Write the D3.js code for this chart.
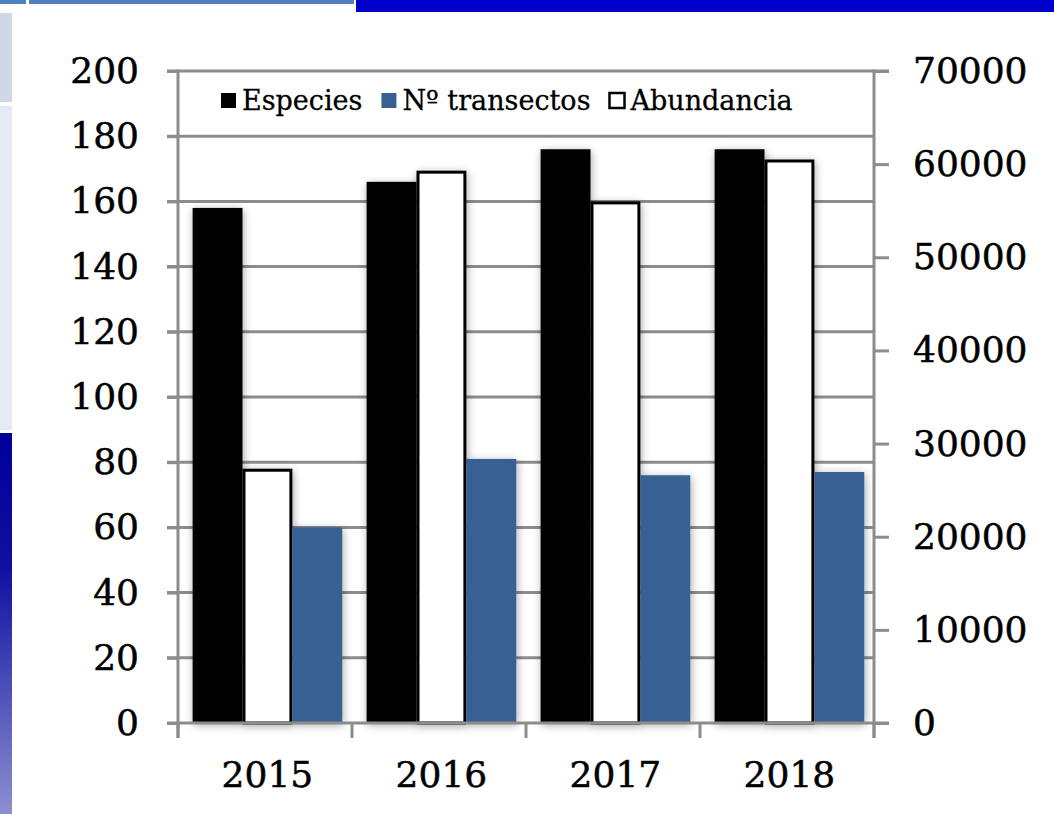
<!DOCTYPE html>
<html>
<head>
<meta charset="utf-8">
<script src="https://cdn.jsdelivr.net/npm/d3@7"></script>
<style>
  body { margin: 0; background: #fff; }
  svg { display: block; }
  text { font-family: "DejaVu Serif", serif; fill: #000; }
</style>
</head>
<body>
<svg id="chart" width="1054" height="814"></svg>
<script>
// data
var years = ["2015", "2016", "2017", "2018"];
var especies = [158, 166, 176, 176];
var transectos = [60, 81, 76, 77];
var abundancia = [27300, 59300, 56000, 60500];
var leftTicks = [0, 20, 40, 60, 80, 100, 120, 140, 160, 180, 200];
var rightTicks = [0, 10000, 20000, 30000, 40000, 50000, 60000, 70000];

var svg = d3.select("#chart");

// slide decoration around the picture
svg.append("rect").attr("x", 0).attr("y", 0).attr("width", 26).attr("height", 4).attr("fill", "#4f81bd");
svg.append("rect").attr("x", 29).attr("y", 0).attr("width", 325).attr("height", 4).attr("fill", "#4f81bd");
svg.append("rect").attr("x", 356).attr("y", 0).attr("width", 698).attr("height", 12).attr("fill", "#0000cc");
svg.append("rect").attr("x", 0).attr("y", 13).attr("width", 12).attr("height", 89).attr("fill", "#d0d8e8");
svg.append("rect").attr("x", 0).attr("y", 106).attr("width", 12).attr("height", 324).attr("fill", "#e6eaf4");

var defs = svg.append("defs");
var grad = defs.append("linearGradient").attr("id", "side").attr("x1", 0).attr("y1", 0).attr("x2", 0).attr("y2", 1);
grad.append("stop").attr("offset", "0%").attr("stop-color", "#00009c");
grad.append("stop").attr("offset", "35%").attr("stop-color", "#0f0fa0");
grad.append("stop").attr("offset", "100%").attr("stop-color", "#8c90d0");
svg.append("rect").attr("x", 0).attr("y", 433).attr("width", 12).attr("height", 381).attr("fill", "url(#side)");

var shadow = defs.append("filter").attr("id", "shadow")
    .attr("x", "-30%").attr("y", "-10%").attr("width", "160%").attr("height", "120%");
shadow.append("feDropShadow").attr("dx", 1).attr("dy", 2).attr("stdDeviation", 4)
    .attr("flood-color", "#000").attr("flood-opacity", 0.35);

// plot box (note: "top" is taken by window.top)
var pLeft = 178, pRight = 874, pTop = 71, pBottom = 723;

var x = d3.scaleBand().domain(years).range([pLeft, pRight]).paddingInner(0.14).paddingOuter(0.07).align(0.6);
var sub = d3.scaleBand().domain(["esp", "abu", "tra"]).range([0, x.bandwidth()]);
var yL = d3.scaleLinear().domain([0, 200]).range([pBottom, pTop]);
var yR = d3.scaleLinear().domain([0, 70000]).range([pBottom, pTop]);

var grey = "#8c8c8c";

// gridlines
svg.append("g").selectAll("line").data(leftTicks.slice(1)).enter().append("line")
    .attr("x1", pLeft - 11).attr("x2", function(d) { return d == 200 ? pRight + 15 : pRight; })
    .attr("y1", function(d) { return yL(d); }).attr("y2", function(d) { return yL(d); })
    .attr("stroke", grey).attr("stroke-width", 3);

// bars
var groups = svg.append("g").attr("filter", "url(#shadow)");
groups.selectAll(".esp").data(years).enter().append("rect")
    .attr("x", function(d) { return x(d) + sub("esp"); })
    .attr("y", function(d, i) { return yL(especies[i]); })
    .attr("width", sub.bandwidth())
    .attr("height", function(d, i) { return pBottom - yL(especies[i]); })
    .attr("fill", "#000");

groups.selectAll(".abu").data(years).enter().append("rect")
    .attr("x", function(d) { return x(d) + sub("abu") + 1.5; })
    .attr("y", function(d, i) { return yR(abundancia[i]) + 1.5; })
    .attr("width", sub.bandwidth() - 3)
    .attr("height", function(d, i) { return pBottom - yR(abundancia[i]) - 1.5; })
    .attr("fill", "#fff").attr("stroke", "#000").attr("stroke-width", 3);

groups.selectAll(".tra").data(years).enter().append("rect")
    .attr("x", function(d) { return x(d) + sub("tra"); })
    .attr("y", function(d, i) { return yL(transectos[i]); })
    .attr("width", sub.bandwidth())
    .attr("height", function(d, i) { return pBottom - yL(transectos[i]); })
    .attr("fill", "#386193");

// left axis
var axL = svg.append("g").attr("transform", "translate(" + pLeft + ",0)")
    .call(d3.axisLeft(yL).tickValues(leftTicks).tickSize(11).tickPadding(28).tickSizeOuter(0));
// right axis
var axR = svg.append("g").attr("transform", "translate(" + pRight + ",0)")
    .call(d3.axisRight(yR).tickValues(rightTicks).tickFormat(d3.format("d"))
      .tickSize(15).tickPadding(24).tickSizeOuter(0));
// bottom axis
var axB = svg.append("g").attr("transform", "translate(0," + pBottom + ")")
    .call(d3.axisBottom(x).tickSize(0).tickPadding(38).tickSizeOuter(0));

[axL, axR, axB].forEach(function(a) {
  a.select(".domain").attr("stroke", grey).attr("stroke-width", 3);
  a.selectAll(".tick line").attr("stroke", grey).attr("stroke-width", 3);
  a.selectAll("text").attr("font-family", "DejaVu Serif").attr("font-size", 36).attr("fill", "#000")
      .attr("stroke", "#000").attr("stroke-width", 0.5);
});
axL.select(".domain").attr("d", "M0," + (pTop - 1.5) + "V" + (pBottom + 15));
axR.select(".domain").attr("d", "M0," + (pTop - 1.5) + "V" + (pBottom + 15));
axB.select(".domain").attr("d", "M" + (pLeft - 11) + ",0H" + (pRight + 15));
axB.selectAll("text").attr("dy", "0.71em");

// category separators on the baseline
var step = (pRight - pLeft) / years.length;
svg.append("g").selectAll("line").data(d3.range(years.length + 1)).enter().append("line")
    .attr("x1", function(i) { return pLeft + i * step; })
    .attr("x2", function(i) { return pLeft + i * step; })
    .attr("y1", pBottom).attr("y2", pBottom + 15)
    .attr("stroke", grey).attr("stroke-width", 3);

// legend
var legend = [
  {name: "Especies", fill: "#000", stroke: "none"},
  {name: "Nº transectos", fill: "#386193", stroke: "none"},
  {name: "Abundancia", fill: "#fff", stroke: "#000"}
];
var lx = 220, ly = 101;
legend.forEach(function(l) {
  svg.append("rect").attr("x", lx + 1).attr("y", ly - 8).attr("width", 15).attr("height", 15)
      .attr("fill", l.fill).attr("stroke", l.stroke).attr("stroke-width", 2.5);
  var t = svg.append("text").attr("x", lx + 22).attr("y", ly).attr("dy", "0.35em")
      .attr("font-size", 27).attr("stroke", "#000").attr("stroke-width", 0.3).text(l.name);
  lx += 22 + t.node().getComputedTextLength() + 18;
});
</script>
</body>
</html>
